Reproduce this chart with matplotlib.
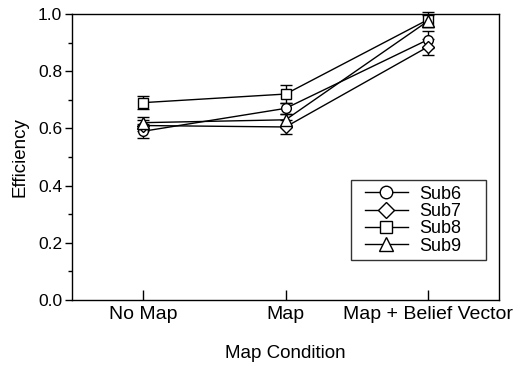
import numpy as np
import matplotlib.pyplot as plt
from matplotlib.lines import Line2D
from matplotlib.legend_handler import HandlerLine2D
from matplotlib.ticker import MultipleLocator, FormatStrFormatter

plt.rcParams['font.family'] = ['Liberation Sans', 'DejaVu Sans']

# data
conditions = ['No Map', 'Map', 'Map + Belief Vector']
subjects = ['Sub6', 'Sub7', 'Sub8', 'Sub9']
markers = ['o', 'D', 's', '^']

sub6 = [0.59, 0.67, 0.91]
sub7 = [0.61, 0.605, 0.885]
sub8 = [0.69, 0.72, 0.98]
sub9 = [0.62, 0.63, 0.975]

sub6_err = [0.025, 0.02, 0.03]
sub7_err = [0.02, 0.025, 0.028]
sub8_err = [0.022, 0.03, 0.025]
sub9_err = [0.02, 0.02, 0.02]

values = [sub6, sub7, sub8, sub9]
errors = [sub6_err, sub7_err, sub8_err, sub9_err]
msizes = [7, 6, 7, 8]

fig = plt.figure(figsize=(5.26, 3.66), dpi=100)
ax = fig.add_axes([0.137, 0.180, 0.812, 0.782])

x = np.arange(1, len(conditions) + 1)
handles = []
for name, vals, errs, m, ms in zip(subjects, values, errors, markers, msizes):
    ax.errorbar(x, vals, yerr=errs, color='black', lw=1.0, elinewidth=1.0,
                capsize=4.5, capthick=1.0, marker=m, markersize=ms,
                markerfacecolor='white', markeredgecolor='black',
                markeredgewidth=1.0, clip_on=False)
    # legend entry: line + marker only, no error bar
    handles.append(Line2D([], [], color='black', lw=1.0, marker=m,
                          markersize=ms + 2, markerfacecolor='white',
                          markeredgecolor='black', markeredgewidth=1.0,
                          label=name))

ax.set_xlim(0.5, 3.5)
ax.set_ylim(0.0, 1.0)
ax.set_xticks(x)
ax.set_xticklabels(conditions, fontsize=14)
ax.yaxis.set_major_locator(MultipleLocator(0.2))
ax.yaxis.set_minor_locator(MultipleLocator(0.1))
ax.yaxis.set_major_formatter(FormatStrFormatter('%.1f'))
ax.tick_params(axis='y', which='major', direction='out', length=5, width=1,
               labelsize=12.5, pad=2)
ax.tick_params(axis='y', which='minor', direction='out', length=3, width=1)
ax.tick_params(axis='x', direction='in', length=7, width=1, pad=4)

for s in ax.spines.values():
    s.set_linewidth(1.0)

ax.set_xlabel('Map Condition', fontsize=13.5, labelpad=16)
ax.set_ylabel('Efficiency', fontsize=13.5, labelpad=7)

leg = ax.legend(handles=handles, loc='lower left',
                bbox_to_anchor=(0.653, 0.14, 0.317, 0.287), mode='expand',
                fontsize=13, frameon=True, fancybox=False, edgecolor='black',
                handlelength=2.85, handletextpad=0.65, labelspacing=0.02,
                borderpad=0.3, borderaxespad=0,
                handler_map={Line2D: HandlerLine2D(xpad=0.45)})
leg.get_frame().set_linewidth(1.0)

fig.savefig('out.png', dpi=100)
